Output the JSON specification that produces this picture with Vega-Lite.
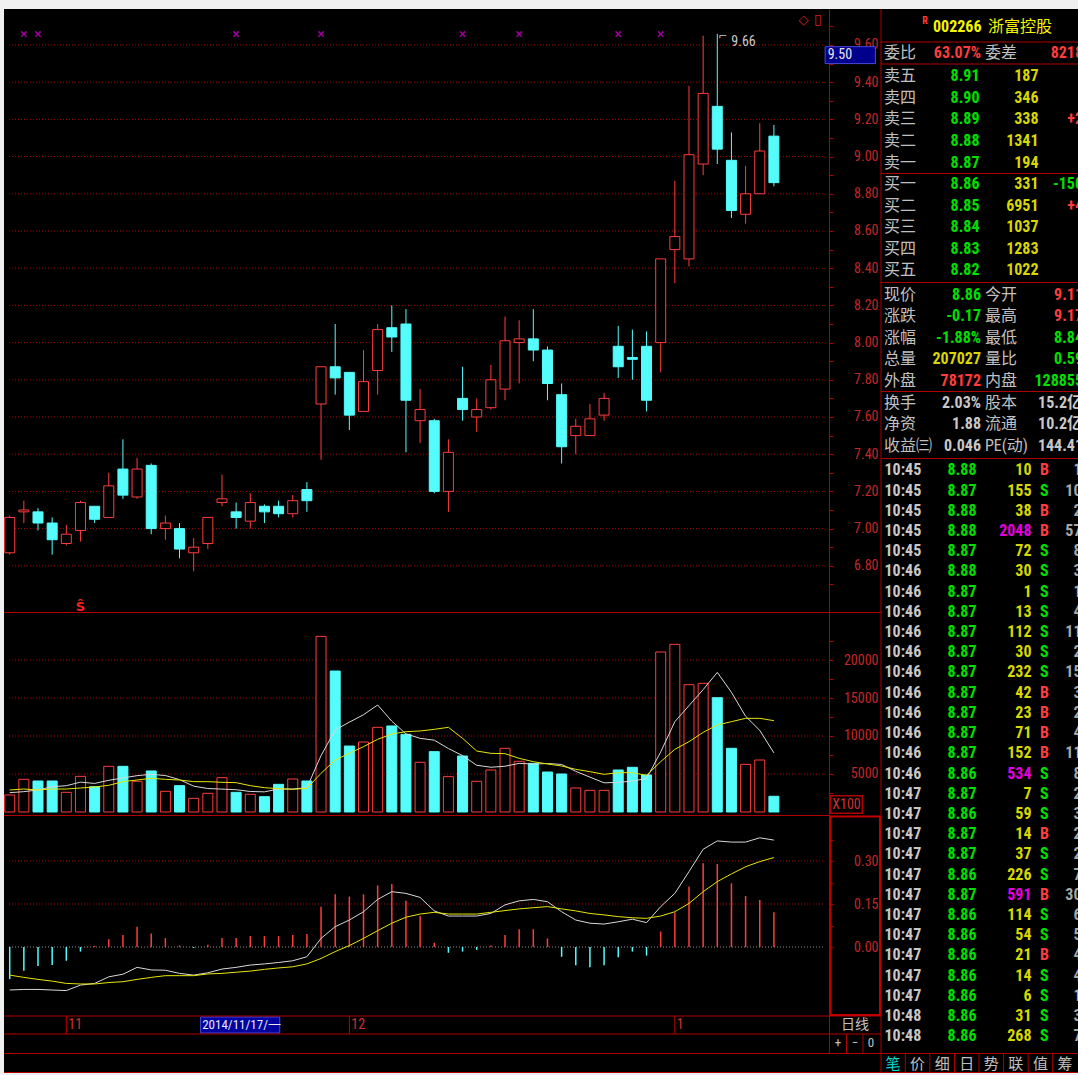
{
"$schema":"https://vega.github.io/schema/vega-lite/v6.json",
"autosize":"none",
"width":1074,"height":1063,
"padding":{"left":4,"top":9,"right":0,"bottom":3},
"background":"#f0f0f0",
"config":{
 "view":{"fill":"#000000","stroke":null},
 "text":{"baseline":"middle","font":"Roboto Condensed, DejaVu Sans Condensed, Liberation Sans Narrow, Liberation Sans, Noto Sans CJK SC, sans-serif"},
 "axis":{"labelFont":"Roboto Condensed, DejaVu Sans Condensed, Liberation Sans Narrow, Liberation Sans, sans-serif"}
},
"datasets":{
 "k":[
  {"i":0,"d":"2014/10/28","o":6.87,"h":7.07,"l":6.86,"c":7.06,"v":2240,"m5":2544,"m10":2895,"dif":-0.150,"dea":-0.098,"macd":-0.112},
  {"i":1,"d":"2014/10/29","o":7.09,"h":7.15,"l":7.03,"c":7.10,"v":4300,"m5":2675,"m10":3026,"dif":-0.148,"dea":-0.106,"macd":-0.083},
  {"i":2,"d":"2014/10/30","o":7.09,"h":7.11,"l":6.99,"c":7.03,"v":4080,"m5":2895,"m10":2895,"dif":-0.148,"dea":-0.113,"macd":-0.066},
  {"i":3,"d":"2014/10/31","o":7.03,"h":7.06,"l":6.86,"c":6.94,"v":4080,"m5":3333,"m10":3026,"dif":-0.150,"dea":-0.119,"macd":-0.063},
  {"i":4,"d":"2014/11/03","o":6.92,"h":7.02,"l":6.91,"c":6.97,"v":2590,"m5":3458,"m10":3026,"dif":-0.152,"dea":-0.127,"macd":-0.048},
  {"i":5,"d":"2014/11/04","o":6.99,"h":7.15,"l":6.93,"c":7.14,"v":4690,"m5":3930,"m10":3158,"dif":-0.133,"dea":-0.129,"macd":-0.016},
  {"i":6,"d":"2014/11/05","o":7.12,"h":7.12,"l":7.03,"c":7.05,"v":3330,"m5":3760,"m10":3289,"dif":-0.127,"dea":-0.129,"macd":0.004},
  {"i":7,"d":"2014/11/06","o":7.06,"h":7.30,"l":7.06,"c":7.23,"v":6010,"m5":4170,"m10":3509,"dif":-0.104,"dea":-0.124,"macd":0.027},
  {"i":8,"d":"2014/11/07","o":7.32,"h":7.48,"l":7.16,"c":7.18,"v":6010,"m5":4480,"m10":3991,"dif":-0.095,"dea":-0.121,"macd":0.042},
  {"i":9,"d":"2014/11/10","o":7.17,"h":7.38,"l":7.16,"c":7.32,"v":4040,"m5":4780,"m10":4211,"dif":-0.071,"dea":-0.113,"macd":0.071},
  {"i":10,"d":"2014/11/11","o":7.34,"h":7.35,"l":6.97,"c":7.00,"v":5400,"m5":4956,"m10":4430,"dif":-0.080,"dea":-0.106,"macd":0.047},
  {"i":11,"d":"2014/11/12","o":7.00,"h":7.07,"l":6.94,"c":7.03,"v":2720,"m5":4800,"m10":4300,"dif":-0.081,"dea":-0.100,"macd":0.031},
  {"i":12,"d":"2014/11/13","o":7.00,"h":7.03,"l":6.84,"c":6.89,"v":3470,"m5":4260,"m10":4211,"dif":-0.092,"dea":-0.100,"macd":0.005},
  {"i":13,"d":"2014/11/14","o":6.87,"h":6.95,"l":6.77,"c":6.90,"v":1800,"m5":3400,"m10":3991,"dif":-0.098,"dea":-0.100,"macd":-0.003},
  {"i":14,"d":"2014/11/17","o":6.92,"h":7.06,"l":6.89,"c":7.06,"v":2460,"m5":3090,"m10":3991,"dif":-0.090,"dea":-0.094,"macd":0.008},
  {"i":15,"d":"2014/11/18","o":7.14,"h":7.29,"l":7.12,"c":7.16,"v":4520,"m5":3010,"m10":3904,"dif":-0.077,"dea":-0.092,"macd":0.031},
  {"i":16,"d":"2014/11/19","o":7.09,"h":7.14,"l":7.00,"c":7.06,"v":2590,"m5":2930,"m10":3860,"dif":-0.071,"dea":-0.088,"macd":0.031},
  {"i":17,"d":"2014/11/20","o":7.04,"h":7.19,"l":7.00,"c":7.14,"v":2330,"m5":2700,"m10":3465,"dif":-0.063,"dea":-0.084,"macd":0.038},
  {"i":18,"d":"2014/11/21","o":7.12,"h":7.13,"l":7.03,"c":7.09,"v":2020,"m5":2650,"m10":3202,"dif":-0.059,"dea":-0.078,"macd":0.038},
  {"i":19,"d":"2014/11/24","o":7.12,"h":7.15,"l":7.06,"c":7.08,"v":3640,"m5":3026,"m10":3070,"dif":-0.054,"dea":-0.073,"macd":0.038},
  {"i":20,"d":"2014/11/25","o":7.08,"h":7.18,"l":7.06,"c":7.15,"v":4340,"m5":3026,"m10":2982,"dif":-0.048,"dea":-0.069,"macd":0.042},
  {"i":21,"d":"2014/11/26","o":7.21,"h":7.25,"l":7.09,"c":7.15,"v":4080,"m5":3200,"m10":3114,"dif":-0.034,"dea":-0.059,"macd":0.045},
  {"i":22,"d":"2014/11/27","o":7.67,"h":7.87,"l":7.37,"c":7.87,"v":23110,"m5":7420,"m10":5088,"dif":0.030,"dea":-0.040,"macd":0.140},
  {"i":23,"d":"2014/11/28","o":7.87,"h":8.10,"l":7.72,"c":7.81,"v":18550,"m5":10800,"m10":6842,"dif":0.071,"dea":-0.016,"macd":0.184},
  {"i":24,"d":"2014/12/01","o":7.84,"h":7.84,"l":7.53,"c":7.61,"v":8680,"m5":11820,"m10":7719,"dif":0.094,"dea":0.005,"macd":0.176},
  {"i":25,"d":"2014/12/02","o":7.63,"h":7.96,"l":7.63,"c":7.79,"v":9210,"m5":12800,"m10":8596,"dif":0.123,"dea":0.030,"macd":0.184},
  {"i":26,"d":"2014/12/03","o":7.85,"h":8.10,"l":7.72,"c":8.07,"v":11140,"m5":14080,"m10":9561,"dif":0.166,"dea":0.057,"macd":0.215},
  {"i":27,"d":"2014/12/04","o":8.08,"h":8.20,"l":7.95,"c":8.03,"v":11320,"m5":11950,"m10":10263,"dif":0.193,"dea":0.083,"macd":0.220},
  {"i":28,"d":"2014/12/05","o":8.10,"h":8.18,"l":7.41,"c":7.69,"v":10220,"m5":10280,"m10":10570,"dif":0.187,"dea":0.104,"macd":0.161},
  {"i":29,"d":"2014/12/08","o":7.58,"h":7.75,"l":7.46,"c":7.64,"v":6540,"m5":9690,"m10":10658,"dif":0.173,"dea":0.115,"macd":0.108},
  {"i":30,"d":"2014/12/09","o":7.58,"h":7.59,"l":7.19,"c":7.20,"v":7940,"m5":9450,"m10":10877,"dif":0.126,"dea":0.121,"macd":0.015},
  {"i":31,"d":"2014/12/10","o":7.20,"h":7.48,"l":7.09,"c":7.41,"v":4650,"m5":8350,"m10":11140,"dif":0.108,"dea":0.115,"macd":-0.020},
  {"i":32,"d":"2014/12/11","o":7.70,"h":7.87,"l":7.58,"c":7.64,"v":7370,"m5":7420,"m10":9693,"dif":0.108,"dea":0.115,"macd":-0.016},
  {"i":33,"d":"2014/12/12","o":7.60,"h":7.70,"l":7.52,"c":7.64,"v":4040,"m5":6150,"m10":8026,"dif":0.108,"dea":0.115,"macd":-0.010},
  {"i":34,"d":"2014/12/15","o":7.65,"h":7.88,"l":7.64,"c":7.80,"v":5530,"m5":5890,"m10":7719,"dif":0.117,"dea":0.121,"macd":0.005},
  {"i":35,"d":"2014/12/16","o":7.75,"h":8.14,"l":7.69,"c":8.01,"v":8380,"m5":6020,"m10":7675,"dif":0.147,"dea":0.127,"macd":0.042},
  {"i":36,"d":"2014/12/17","o":8.00,"h":8.12,"l":7.78,"c":8.02,"v":6670,"m5":6400,"m10":7061,"dif":0.161,"dea":0.133,"macd":0.062},
  {"i":37,"d":"2014/12/18","o":8.02,"h":8.18,"l":7.90,"c":7.96,"v":6400,"m5":6300,"m10":6623,"dif":0.166,"dea":0.137,"macd":0.062},
  {"i":38,"d":"2014/12/19","o":7.96,"h":7.98,"l":7.69,"c":7.78,"v":5260,"m5":6380,"m10":6316,"dif":0.158,"dea":0.141,"macd":0.030},
  {"i":39,"d":"2014/12/22","o":7.72,"h":7.78,"l":7.35,"c":7.44,"v":5000,"m5":6260,"m10":6053,"dif":0.123,"dea":0.133,"macd":-0.034},
  {"i":40,"d":"2014/12/23","o":7.50,"h":7.59,"l":7.40,"c":7.55,"v":3160,"m5":5350,"m10":5614,"dif":0.094,"dea":0.126,"macd":-0.064},
  {"i":41,"d":"2014/12/24","o":7.50,"h":7.67,"l":7.50,"c":7.59,"v":2850,"m5":4590,"m10":5307,"dif":0.083,"dea":0.117,"macd":-0.071},
  {"i":42,"d":"2014/12/25","o":7.61,"h":7.73,"l":7.58,"c":7.70,"v":2850,"m5":3840,"m10":4956,"dif":0.080,"dea":0.112,"macd":-0.064},
  {"i":43,"d":"2014/12/26","o":7.98,"h":8.09,"l":7.81,"c":7.87,"v":5530,"m5":3890,"m10":5175,"dif":0.088,"dea":0.106,"macd":-0.036},
  {"i":44,"d":"2014/12/29","o":7.92,"h":8.07,"l":7.80,"c":7.91,"v":5880,"m5":4070,"m10":5175,"dif":0.097,"dea":0.102,"macd":-0.016},
  {"i":45,"d":"2014/12/30","o":7.98,"h":8.06,"l":7.63,"c":7.69,"v":4870,"m5":4410,"m10":4825,"dif":0.085,"dea":0.100,"macd":-0.030},
  {"i":46,"d":"2014/12/31","o":8.00,"h":8.45,"l":7.84,"c":8.45,"v":21050,"m5":7900,"m10":6623,"dif":0.141,"dea":0.108,"macd":0.054},
  {"i":47,"d":"2015/01/05","o":8.50,"h":8.87,"l":8.32,"c":8.57,"v":22060,"m5":11880,"m10":8246,"dif":0.187,"dea":0.123,"macd":0.120},
  {"i":48,"d":"2015/01/06","o":8.45,"h":9.38,"l":8.41,"c":9.01,"v":16750,"m5":14000,"m10":9254,"dif":0.263,"dea":0.152,"macd":0.211},
  {"i":49,"d":"2015/01/07","o":8.96,"h":9.65,"l":8.90,"c":9.34,"v":16930,"m5":16100,"m10":10482,"dif":0.341,"dea":0.193,"macd":0.292},
  {"i":50,"d":"2015/01/08","o":9.27,"h":9.66,"l":8.96,"c":9.04,"v":15040,"m5":18370,"m10":11447,"dif":0.370,"dea":0.228,"macd":0.290},
  {"i":51,"d":"2015/01/09","o":8.98,"h":9.13,"l":8.67,"c":8.71,"v":8380,"m5":15750,"m10":11886,"dif":0.366,"dea":0.255,"macd":0.222},
  {"i":52,"d":"2015/01/12","o":8.69,"h":8.95,"l":8.64,"c":8.80,"v":6270,"m5":12600,"m10":12325,"dif":0.366,"dea":0.280,"macd":0.178},
  {"i":53,"d":"2015/01/13","o":8.80,"h":9.18,"l":8.80,"c":9.03,"v":6840,"m5":10740,"m10":12325,"dif":0.381,"dea":0.298,"macd":0.164},
  {"i":54,"d":"2015/01/14","o":9.11,"h":9.17,"l":8.84,"c":8.86,"v":2070,"m5":7780,"m10":12018,"dif":0.373,"dea":0.312,"macd":0.121}
 ],
 "sig":[{"i":1,"s":"x"},{"i":2,"s":"x"},{"i":16,"s":"x"},{"i":22,"s":"x"},{"i":32,"s":"x"},{"i":36,"s":"x"},{"i":43,"s":"x"},{"i":46,"s":"x"},{"i":5,"s":"S"}],
 "cursor":[{"i":14,"price":9.5,"d":"2014/11/17/一"}],
 "months":[{"i":4,"m":"11"},{"i":24,"m":"12"},{"i":47,"m":"1"}],
 "book":[
  {"n":"卖五","p":8.91,"v":187,"x":""},
  {"n":"卖四","p":8.90,"v":346,"x":""},
  {"n":"卖三","p":8.89,"v":338,"x":"+2"},
  {"n":"卖二","p":8.88,"v":1341,"x":""},
  {"n":"卖一","p":8.87,"v":194,"x":""},
  {"n":"买一","p":8.86,"v":331,"x":"-150"},
  {"n":"买二","p":8.85,"v":6951,"x":"+4"},
  {"n":"买三","p":8.84,"v":1037,"x":""},
  {"n":"买四","p":8.83,"v":1283,"x":""},
  {"n":"买五","p":8.82,"v":1022,"x":""}
 ],
 "stats":[
  {"n":"委比","v":"63.07%","t":"up","n2":"委差","v2":"8218","t2":"up"},
  {"n":"现价","v":"8.86","t":"dn","n2":"今开","v2":"9.11","t2":"up"},
  {"n":"涨跌","v":"-0.17","t":"dn","n2":"最高","v2":"9.17","t2":"up"},
  {"n":"涨幅","v":"-1.88%","t":"dn","n2":"最低","v2":"8.84","t2":"dn"},
  {"n":"总量","v":"207027","t":"vol","n2":"量比","v2":"0.59","t2":"dn"},
  {"n":"外盘","v":"78172","t":"up","n2":"内盘","v2":"128855","t2":"dn"},
  {"n":"换手","v":"2.03%","t":"info","n2":"股本","v2":"15.2亿","t2":"info"},
  {"n":"净资","v":"1.88","t":"info","n2":"流通","v2":"10.2亿","t2":"info"},
  {"n":"收益㈢","v":"0.046","t":"info","n2":"PE(动)","v2":"144.41","t2":"info"}
 ],
 "ticks":[
  {"n":1,"t":"10:45","p":8.88,"v":10,"bs":"B","k":1},
  {"n":2,"t":"10:45","p":8.87,"v":155,"bs":"S","k":10},
  {"n":3,"t":"10:45","p":8.88,"v":38,"bs":"B","k":2},
  {"n":4,"t":"10:45","p":8.88,"v":2048,"bs":"B","k":57},
  {"n":5,"t":"10:45","p":8.87,"v":72,"bs":"S","k":8},
  {"n":6,"t":"10:46","p":8.88,"v":30,"bs":"S","k":3},
  {"n":7,"t":"10:46","p":8.87,"v":1,"bs":"S","k":1},
  {"n":8,"t":"10:46","p":8.87,"v":13,"bs":"S","k":4},
  {"n":9,"t":"10:46","p":8.87,"v":112,"bs":"S","k":11},
  {"n":10,"t":"10:46","p":8.87,"v":30,"bs":"S","k":2},
  {"n":11,"t":"10:46","p":8.87,"v":232,"bs":"S","k":15},
  {"n":12,"t":"10:46","p":8.87,"v":42,"bs":"B","k":3},
  {"n":13,"t":"10:46","p":8.87,"v":23,"bs":"B","k":2},
  {"n":14,"t":"10:46","p":8.87,"v":71,"bs":"B","k":4},
  {"n":15,"t":"10:46","p":8.87,"v":152,"bs":"B","k":11},
  {"n":16,"t":"10:46","p":8.86,"v":534,"bs":"S","k":8},
  {"n":17,"t":"10:47","p":8.87,"v":7,"bs":"S","k":2},
  {"n":18,"t":"10:47","p":8.86,"v":59,"bs":"S","k":3},
  {"n":19,"t":"10:47","p":8.87,"v":14,"bs":"B","k":2},
  {"n":20,"t":"10:47","p":8.87,"v":37,"bs":"S","k":2},
  {"n":21,"t":"10:47","p":8.86,"v":226,"bs":"S","k":7},
  {"n":22,"t":"10:47","p":8.87,"v":591,"bs":"B","k":30},
  {"n":23,"t":"10:47","p":8.86,"v":114,"bs":"S","k":6},
  {"n":24,"t":"10:47","p":8.86,"v":54,"bs":"S","k":5},
  {"n":25,"t":"10:47","p":8.86,"v":21,"bs":"B","k":4},
  {"n":26,"t":"10:47","p":8.86,"v":14,"bs":"S","k":4},
  {"n":27,"t":"10:47","p":8.86,"v":6,"bs":"S","k":1},
  {"n":28,"t":"10:48","p":8.86,"v":31,"bs":"S","k":3},
  {"n":29,"t":"10:48","p":8.86,"v":268,"bs":"S","k":7}
 ]
},
"layer":[
 {
  "data":{"name":"k"},
  "resolve":{"scale":{"x":"shared","y":"independent"}},
  "layer":[
   {
    "resolve":{"axis":{"y":"independent"}},
    "layer":[
     {"data":{"values":[{"g":6.8},{"g":7.0},{"g":7.2},{"g":7.4},{"g":7.6},{"g":7.8},{"g":8.0},{"g":8.2},{"g":8.4},{"g":8.6},{"g":8.8},{"g":9.0},{"g":9.2},{"g":9.4},{"g":9.6}]},
      "mark":{"type":"rule","stroke":"#a80000","strokeDash":[1,2]},
      "encoding":{
       "x":{"datum":-0.05,"type":"quantitative","scale":{"domain":[-0.05,57.54],"range":[0,825],"nice":false,"zero":false},"axis":null},
       "x2":{"datum":57.54},
       "y":{"field":"g","type":"quantitative","scale":{"domain":[6.5516,9.7935],"range":[603,0],"nice":false,"zero":false},"axis":null}}},
     {"mark":{"type":"rule","clip":true},
      "encoding":{
       "x":{"field":"i","type":"quantitative","axis":null},
       "y":{"field":"l","type":"quantitative",
            "axis":{"orient":"right","offset":-249,"values":[6.8,7,7.2,7.4,7.6,7.8,8,8.2,8.4,8.6,8.8,9,9.2,9.4,9.6],"format":".2f","title":null,"labelAlign":"right","labelPadding":45,"tickSize":4,"tickColor":"#b00000","domainColor":"#b00000","labelColor":"#c02828","labelFontSize":14,"labelOverlap":false,"labelFlush":false,"grid":false}},
       "y2":{"field":"h"},
       "stroke":{"condition":{"test":"datum.c >= datum.o","value":"#ff3c3c"},"value":"#54fcfc"}}},
     {"mark":{"type":"bar","width":10,"strokeWidth":1,"clip":true},
      "encoding":{
       "x":{"field":"i","type":"quantitative","axis":null},
       "y":{"field":"o","type":"quantitative","axis":{"orient":"right","offset":-249,"values":[6.7,6.9,7.1,7.3,7.5,7.7,7.9,8.1,8.3,8.5,8.7,8.9,9.1,9.3,9.5,9.7],"labels":false,"domain":false,"grid":false,"tickSize":4,"tickColor":"#b00000","title":null}},
       "y2":{"field":"c"},
       "fill":{"condition":{"test":"datum.c >= datum.o","value":"#000000"},"value":"#54fcfc"},
       "stroke":{"condition":{"test":"datum.c >= datum.o","value":"#ff3c3c"},"value":"#54fcfc"}}},
     {"data":{"name":"sig"},"transform":[{"filter":"datum.s == 'x'"}],
      "mark":{"type":"point","shape":"M-1,-1L1,1M1,-1L-1,1","size":28,"filled":false,"stroke":"#e000e0","strokeWidth":1.5},
      "encoding":{"x":{"field":"i","type":"quantitative","axis":null},"y":{"datum":9.659,"type":"quantitative","axis":null}}},
     {"data":{"name":"sig"},"transform":[{"filter":"datum.s == 'S'"}],
      "mark":{"type":"text","text":"Ŝ","fontSize":13,"fontWeight":"bold","fill":"#ff2020","font":"DejaVu Sans"},
      "encoding":{"x":{"field":"i","type":"quantitative","axis":null},"y":{"datum":6.578,"type":"quantitative","axis":null}}},
     {"transform":[{"joinaggregate":[{"op":"max","field":"h","as":"hm"}]},{"filter":"datum.h == datum.hm"}],
      "mark":{"type":"text","align":"left","dx":14,"dy":8,"fontSize":14,"fill":"#c8c8c8"},
      "encoding":{"x":{"field":"i","type":"quantitative","axis":null},"y":{"field":"h","type":"quantitative","axis":null},"text":{"field":"h","type":"quantitative","format":".2f"}}},
     {"transform":[{"joinaggregate":[{"op":"max","field":"h","as":"hm"}]},{"filter":"datum.h == datum.hm"}],
      "mark":{"type":"text","text":"⌐","align":"left","dx":1,"dy":3,"fontSize":11,"fill":"#c8c8c8","font":"DejaVu Sans"},
      "encoding":{"x":{"field":"i","type":"quantitative","axis":null},"y":{"field":"h","type":"quantitative","axis":null}}},
     {"data":{"name":"cursor"},
      "mark":{"type":"rect","fill":"#00008c","stroke":"#4848d8","strokeWidth":1},
      "encoding":{"x":{"datum":57.62,"type":"quantitative","axis":null},"x2":{"datum":61.17},"y":{"field":"price","type":"quantitative","axis":null},"y2":{"datum":9.591}}},
     {"data":{"name":"cursor"},
      "mark":{"type":"text","align":"left","fontSize":14,"fill":"#e8e8e8"},
      "encoding":{"x":{"datum":57.8,"type":"quantitative","axis":null},"y":{"datum":9.546,"type":"quantitative","axis":null},"text":{"field":"price","type":"quantitative","format":".2f"}}},
     {"data":{"name":"cursor"},
      "mark":{"type":"text","text":"◇","fontSize":13,"fill":"#d02020","font":"DejaVu Sans"},
      "encoding":{"x":{"datum":56.1,"type":"quantitative","axis":null},"y":{"datum":9.734,"type":"quantitative","axis":null}}},
     {"data":{"name":"cursor"},
      "mark":{"type":"text","text":"▯","fontSize":14,"fill":"#d02020","font":"DejaVu Sans"},
      "encoding":{"x":{"datum":57.1,"type":"quantitative","axis":null},"y":{"datum":9.734,"type":"quantitative","axis":null}}}
    ]
   },
   {
    "resolve":{"axis":{"y":"independent"}},
    "layer":[
     {"data":{"values":[{"g":5000},{"g":10000},{"g":15000},{"g":20000}]},
      "mark":{"type":"rule","stroke":"#a80000","strokeDash":[1,2]},
      "encoding":{
       "x":{"datum":-0.05,"type":"quantitative","axis":null},
       "x2":{"datum":57.54},
       "y":{"field":"g","type":"quantitative","scale":{"domain":[-395,26316],"range":[806,603],"nice":false,"zero":false},"axis":null}}},
     {"mark":{"type":"bar","width":10,"strokeWidth":1,"clip":true},
      "encoding":{
       "x":{"field":"i","type":"quantitative","axis":null},
       "y":{"field":"v","type":"quantitative",
            "axis":{"orient":"right","offset":-249,"values":[5000,10000,15000,20000],"format":"d","title":null,"labelAlign":"right","labelPadding":45,"tickSize":4,"tickColor":"#b00000","domainColor":"#b00000","labelColor":"#c02828","labelFontSize":14,"labelOverlap":false,"labelFlush":false,"grid":false}},
       "y2":{"datum":0},
       "fill":{"condition":{"test":"datum.c >= datum.o","value":"#000000"},"value":"#54fcfc"},
       "stroke":{"condition":{"test":"datum.c >= datum.o","value":"#ff3c3c"},"value":"#54fcfc"}}},
     {"mark":{"type":"line","stroke":"#d8d8d8","strokeWidth":1,"clip":true},
      "encoding":{
       "x":{"field":"i","type":"quantitative","axis":null},
       "y":{"field":"m5","type":"quantitative","axis":{"orient":"right","offset":-249,"values":[2500,7500,12500,17500,22500],"labels":false,"domain":false,"grid":false,"tickSize":4,"tickColor":"#b00000","title":null}}}},
     {"mark":{"type":"line","stroke":"#e6e600","strokeWidth":1,"clip":true},
      "encoding":{"x":{"field":"i","type":"quantitative","axis":null},"y":{"field":"m10","type":"quantitative","axis":null}}}
    ]
   },
   {
    "resolve":{"axis":{"y":"independent"}},
    "layer":[
     {"data":{"values":[{"g":0.15,"z":"n"},{"g":0.3,"z":"n"},{"g":0,"z":"z"}]},
      "mark":{"type":"rule","strokeDash":[1,2]},
      "encoding":{
       "x":{"datum":-0.05,"type":"quantitative","axis":null},
       "x2":{"datum":57.54},
       "y":{"field":"g","type":"quantitative","scale":{"domain":[-0.2407,0.4605],"range":[1007,806],"nice":false,"zero":false},"axis":null},
       "stroke":{"condition":{"test":"datum.g == 0","value":"#909090"},"value":"#a80000"}}},
     {"mark":{"type":"rule","strokeWidth":1.5,"clip":true},
      "encoding":{
       "x":{"field":"i","type":"quantitative","axis":null},
       "y":{"field":"macd","type":"quantitative",
            "axis":{"orient":"right","offset":-249,"values":[0,0.15,0.3],"format":".2f","title":null,"labelAlign":"right","labelPadding":45,"tickSize":4,"tickColor":"#b00000","domainColor":"#b00000","labelColor":"#c02828","labelFontSize":14,"labelOverlap":false,"labelFlush":false,"grid":false}},
       "y2":{"datum":0},
       "stroke":{"condition":{"test":"datum.macd >= 0","value":"#ff3c3c"},"value":"#54fcfc"}}},
     {"mark":{"type":"line","stroke":"#d8d8d8","strokeWidth":1,"clip":true},
      "encoding":{
       "x":{"field":"i","type":"quantitative","axis":null},
       "y":{"field":"dif","type":"quantitative","axis":{"orient":"right","offset":-249,"values":[0.075,0.225,0.375],"labels":false,"domain":false,"grid":false,"tickSize":4,"tickColor":"#b00000","title":null}}}},
     {"mark":{"type":"line","stroke":"#e6e600","strokeWidth":1,"clip":true},
      "encoding":{"x":{"field":"i","type":"quantitative","axis":null},"y":{"field":"dea","type":"quantitative","axis":null}}},
     {"data":{"name":"months"},
      "mark":{"type":"rule","stroke":"#c00000"},
      "encoding":{"x":{"field":"i","type":"quantitative","axis":null},"y":{"datum":-0.2407,"type":"quantitative","axis":null},"y2":{"datum":-0.3035}}},
     {"data":{"name":"months"},
      "mark":{"type":"text","align":"left","dx":2,"fontSize":14,"fill":"#d03030"},
      "encoding":{"x":{"field":"i","type":"quantitative","axis":null},"y":{"datum":-0.272,"type":"quantitative","axis":null},"text":{"field":"m"}}},
     {"data":{"name":"cursor"},
      "mark":{"type":"rect","fill":"#0000a0","stroke":"#4848d8","strokeWidth":1},
      "encoding":{"x":{"datum":13.49,"type":"quantitative","axis":null},"x2":{"datum":19.08},"y":{"datum":-0.2442,"type":"quantitative","axis":null},"y2":{"datum":-0.300}}},
     {"data":{"name":"cursor"},
      "mark":{"type":"text","align":"left","fontSize":13,"fill":"#e8e8e8"},
      "encoding":{"x":{"datum":13.6,"type":"quantitative","axis":null},"y":{"datum":-0.272,"type":"quantitative","axis":null},"text":{"field":"d"}}}
    ]
   }
  ]
 },
 {
  "data":{"values":[{}]},
  "resolve":{"scale":{"x":"shared","y":"independent"}},
  "layer":[
   {
    "layer":[
     {"mark":{"type":"rule","stroke":"#b00000"},"encoding":{"x":{"datum":881,"type":"quantitative","scale":{"domain":[0,1078],"range":[-4,1074],"nice":false,"zero":false},"axis":null},"y":{"datum":9,"type":"quantitative","scale":{"domain":[0,1075],"range":[-9,1066],"nice":false,"zero":false},"axis":null},"y2":{"datum":1073}}},
     {"mark":{"type":"rule","stroke":"#b00000"},"encoding":{"x":{"datum":881,"type":"quantitative","axis":null},"x2":{"datum":1078},"y":{"datum":42,"type":"quantitative","axis":null}}},
     {"mark":{"type":"rule","stroke":"#b00000"},"encoding":{"x":{"datum":881,"type":"quantitative","axis":null},"x2":{"datum":1078},"y":{"datum":64,"type":"quantitative","axis":null}}},
     {"mark":{"type":"rule","stroke":"#b00000"},"encoding":{"x":{"datum":881,"type":"quantitative","axis":null},"x2":{"datum":1078},"y":{"datum":173.5,"type":"quantitative","axis":null}}},
     {"mark":{"type":"rule","stroke":"#b00000"},"encoding":{"x":{"datum":881,"type":"quantitative","axis":null},"x2":{"datum":1078},"y":{"datum":282.5,"type":"quantitative","axis":null}}},
     {"mark":{"type":"rule","stroke":"#b00000"},"encoding":{"x":{"datum":881,"type":"quantitative","axis":null},"x2":{"datum":1078},"y":{"datum":391.5,"type":"quantitative","axis":null}}},
     {"mark":{"type":"rule","stroke":"#b00000"},"encoding":{"x":{"datum":881,"type":"quantitative","axis":null},"x2":{"datum":1078},"y":{"datum":458.5,"type":"quantitative","axis":null}}},
     {"mark":{"type":"rule","stroke":"#b00000"},"encoding":{"x":{"datum":4,"type":"quantitative","axis":null},"x2":{"datum":1078},"y":{"datum":1053.5,"type":"quantitative","axis":null}}},
     {"mark":{"type":"rule","stroke":"#b00000"},"encoding":{"x":{"datum":4,"type":"quantitative","axis":null},"x2":{"datum":1078},"y":{"datum":1072.5,"type":"quantitative","axis":null}}},
     {"mark":{"type":"rule","stroke":"#b00000"},"encoding":{"x":{"datum":4,"type":"quantitative","axis":null},"x2":{"datum":881},"y":{"datum":612.5,"type":"quantitative","axis":null}}},
     {"mark":{"type":"rule","stroke":"#b00000"},"encoding":{"x":{"datum":4,"type":"quantitative","axis":null},"x2":{"datum":830},"y":{"datum":815.5,"type":"quantitative","axis":null}}},
     {"mark":{"type":"rule","stroke":"#b00000"},"encoding":{"x":{"datum":4,"type":"quantitative","axis":null},"x2":{"datum":881},"y":{"datum":1016,"type":"quantitative","axis":null}}},
     {"mark":{"type":"rule","stroke":"#b00000"},"encoding":{"x":{"datum":4,"type":"quantitative","axis":null},"x2":{"datum":881},"y":{"datum":1034,"type":"quantitative","axis":null}}},
     {"mark":{"type":"rule","stroke":"#b00000"},"encoding":{"x":{"datum":829.5,"type":"quantitative","axis":null},"y":{"datum":1016,"type":"quantitative","axis":null},"y2":{"datum":1053}}},
     {"mark":{"type":"rule","stroke":"#b00000"},"encoding":{"x":{"datum":846.5,"type":"quantitative","axis":null},"y":{"datum":1034,"type":"quantitative","axis":null},"y2":{"datum":1053}}},
     {"mark":{"type":"rule","stroke":"#b00000"},"encoding":{"x":{"datum":863,"type":"quantitative","axis":null},"y":{"datum":1034,"type":"quantitative","axis":null},"y2":{"datum":1053}}},
     {"mark":{"type":"rect","fill":null,"fillOpacity":0,"stroke":"#c00000","strokeWidth":2},"encoding":{"x":{"datum":830.5,"type":"quantitative","axis":null},"x2":{"datum":880},"y":{"datum":816.5,"type":"quantitative","axis":null},"y2":{"datum":1015}}},
     {"mark":{"type":"rect","fill":null,"fillOpacity":0,"stroke":"#b00000","strokeWidth":1.5},"encoding":{"x":{"datum":830.7,"type":"quantitative","axis":null},"x2":{"datum":862.3},"y":{"datum":795.7,"type":"quantitative","axis":null},"y2":{"datum":813.3}}},
     {"mark":{"type":"text","text":"X100","fontSize":14,"fill":"#d03030"},"encoding":{"x":{"datum":846.5,"type":"quantitative","axis":null},"y":{"datum":804.5,"type":"quantitative","axis":null}}},
     {"mark":{"type":"text","text":"日线","fontSize":14,"fill":"#c0c0c0"},"encoding":{"x":{"datum":855,"type":"quantitative","axis":null},"y":{"datum":1025,"type":"quantitative","axis":null}}},
     {"mark":{"type":"text","text":"+","fontSize":13,"fill":"#c0c0c0"},"encoding":{"x":{"datum":838,"type":"quantitative","axis":null},"y":{"datum":1043,"type":"quantitative","axis":null}}},
     {"mark":{"type":"text","text":"−","fontSize":13,"fill":"#c0c0c0"},"encoding":{"x":{"datum":855,"type":"quantitative","axis":null},"y":{"datum":1043,"type":"quantitative","axis":null}}},
     {"mark":{"type":"text","text":"0","fontSize":13,"fill":"#c0c0c0"},"encoding":{"x":{"datum":871,"type":"quantitative","axis":null},"y":{"datum":1043,"type":"quantitative","axis":null}}},
     {"mark":{"type":"text","text":"R","fontSize":10,"fontWeight":"bold","fill":"#ff3c3c"},"encoding":{"x":{"datum":925,"type":"quantitative","axis":null},"y":{"datum":21,"type":"quantitative","axis":null}}},
     {"mark":{"type":"text","text":"002266","align":"left","fontSize":16,"fontWeight":"bold","fill":"#f5f500"},"encoding":{"x":{"datum":933,"type":"quantitative","axis":null},"y":{"datum":27,"type":"quantitative","axis":null}}},
     {"mark":{"type":"text","text":"浙富控股","align":"left","fontSize":16,"fill":"#f5f500"},"encoding":{"x":{"datum":988,"type":"quantitative","axis":null},"y":{"datum":27,"type":"quantitative","axis":null}}},
     {"data":{"name":"stats"},"transform":[{"filter":"datum.n == '委比'"}],"mark":{"type":"text","align":"left","fontSize":16,"fill":"#c0c0c0"},
      "encoding":{"x":{"datum":884,"type":"quantitative","axis":null},"y":{"datum":53,"type":"quantitative","axis":null},"text":{"field":"n"}}},
     {"data":{"name":"stats"},"transform":[{"filter":"datum.n == '委比'"}],"mark":{"type":"text","align":"right","fontSize":16,"fontWeight":"bold"},
      "encoding":{"x":{"datum":981,"type":"quantitative","axis":null},"y":{"datum":53,"type":"quantitative","axis":null},"text":{"field":"v"},
       "color":{"field":"t","type":"nominal","scale":{"domain":["up","dn","vol","info"],"range":["#ff3c3c","#00e000","#d8d800","#c8c8c8"]},"legend":null}}},
     {"data":{"name":"stats"},"transform":[{"filter":"datum.n == '委比'"}],"mark":{"type":"text","align":"left","fontSize":16,"fill":"#c0c0c0"},
      "encoding":{"x":{"datum":985,"type":"quantitative","axis":null},"y":{"datum":53,"type":"quantitative","axis":null},"text":{"field":"n2"}}},
     {"data":{"name":"stats"},"transform":[{"filter":"datum.n == '委比'"}],"mark":{"type":"text","align":"right","fontSize":16,"fontWeight":"bold","clip":true},
      "encoding":{"x":{"datum":1083,"type":"quantitative","axis":null},"y":{"datum":53,"type":"quantitative","axis":null},"text":{"field":"v2"},
       "color":{"field":"t2","type":"nominal","legend":null}}}
    ]
   },
   {
    "data":{"name":"book"},
    "layer":[
     {"mark":{"type":"text","align":"left","fontSize":16,"fill":"#c0c0c0"},
      "encoding":{"x":{"datum":884,"type":"quantitative","axis":null},
       "y":{"field":"n","type":"nominal","scale":{"type":"point","domain":["卖五","卖四","卖三","卖二","卖一","买一","买二","买三","买四","买五"],"range":[67.3,261.3],"padding":0},"axis":null},
       "text":{"field":"n"}}},
     {"mark":{"type":"text","align":"right","fontSize":16,"fontWeight":"bold"},
      "encoding":{"x":{"datum":979.5,"type":"quantitative","axis":null},"y":{"field":"n","type":"nominal","axis":null},
       "text":{"field":"p","type":"quantitative","format":".2f"},
       "color":{"condition":{"test":"datum.p < 9.03","value":"#00e000"},"value":"#ff3c3c"}}},
     {"mark":{"type":"text","align":"right","fontSize":16,"fontWeight":"bold","fill":"#d8d800"},
      "encoding":{"x":{"datum":1038.5,"type":"quantitative","axis":null},"y":{"field":"n","type":"nominal","axis":null},
       "text":{"field":"v","type":"quantitative","format":"d"}}},
     {"transform":[{"filter":"datum.x != ''"}],
      "mark":{"type":"text","align":"right","fontSize":16,"fontWeight":"bold","clip":true},
      "encoding":{"x":{"datum":1083,"type":"quantitative","axis":null},"y":{"field":"n","type":"nominal","axis":null},
       "text":{"field":"x"},
       "color":{"condition":{"test":"indexof(datum.x, '+') == 0","value":"#ff3c3c"},"value":"#00e000"}}}
    ]
   },
   {
    "data":{"name":"stats"},
    "transform":[{"filter":"datum.n != '委比'"}],
    "layer":[
     {"mark":{"type":"text","align":"left","fontSize":16,"fill":"#c0c0c0"},
      "encoding":{"x":{"datum":884,"type":"quantitative","axis":null},
       "y":{"field":"n","type":"nominal","scale":{"type":"point","domain":["现价","涨跌","涨幅","总量","外盘","换手","净资","收益㈢"],"range":[285.5,437],"padding":0},"axis":null},
       "text":{"field":"n"}}},
     {"mark":{"type":"text","align":"right","fontSize":16,"fontWeight":"bold"},
      "encoding":{"x":{"datum":981,"type":"quantitative","axis":null},"y":{"field":"n","type":"nominal","axis":null},
       "text":{"field":"v"},"color":{"field":"t","type":"nominal","legend":null}}},
     {"mark":{"type":"text","align":"left","fontSize":16,"fill":"#c0c0c0"},
      "encoding":{"x":{"datum":985,"type":"quantitative","axis":null},"y":{"field":"n","type":"nominal","axis":null},"text":{"field":"n2"}}},
     {"mark":{"type":"text","align":"right","fontSize":16,"fontWeight":"bold","clip":true},
      "encoding":{"x":{"datum":1083,"type":"quantitative","axis":null},"y":{"field":"n","type":"nominal","axis":null},
       "text":{"field":"v2"},"color":{"field":"t2","type":"nominal","legend":null}}}
    ]
   },
   {
    "data":{"name":"ticks"},
    "layer":[
     {"mark":{"type":"text","align":"left","fontSize":16,"fontWeight":"bold","fill":"#c8c8c8"},
      "encoding":{"x":{"datum":884.5,"type":"quantitative","axis":null},
       "y":{"field":"n","type":"ordinal","scale":{"type":"point","range":[461.3,1027.3],"padding":0},"axis":null},
       "text":{"field":"t"}}},
     {"mark":{"type":"text","align":"right","fontSize":16,"fontWeight":"bold"},
      "encoding":{"x":{"datum":976.5,"type":"quantitative","axis":null},"y":{"field":"n","type":"ordinal","axis":null},
       "text":{"field":"p","type":"quantitative","format":".2f"},
       "color":{"condition":{"test":"datum.p < 9.03","value":"#00e000"},"value":"#ff3c3c"}}},
     {"mark":{"type":"text","align":"right","fontSize":16,"fontWeight":"bold"},
      "encoding":{"x":{"datum":1031.5,"type":"quantitative","axis":null},"y":{"field":"n","type":"ordinal","axis":null},
       "text":{"field":"v","type":"quantitative","format":"d"},
       "color":{"condition":{"test":"datum.v >= 500","value":"#e000e0"},"value":"#d8d800"}}},
     {"mark":{"type":"text","align":"left","fontSize":16,"fontWeight":"bold"},
      "encoding":{"x":{"datum":1040,"type":"quantitative","axis":null},"y":{"field":"n","type":"ordinal","axis":null},
       "text":{"field":"bs"},
       "color":{"condition":{"test":"datum.bs == 'B'","value":"#ff3c3c"},"value":"#00e000"}}},
     {"mark":{"type":"text","align":"right","fontSize":16,"fontWeight":"bold","fill":"#a8a8a8","clip":true},
      "encoding":{"x":{"datum":1081.5,"type":"quantitative","axis":null},"y":{"field":"n","type":"ordinal","axis":null},
       "text":{"field":"k","type":"quantitative","format":"d"}}}
    ]
   }
  ]
 },
 {
  "data":{"values":[{"tab":"笔"},{"tab":"价"},{"tab":"细"},{"tab":"日"},{"tab":"势"},{"tab":"联"},{"tab":"值"},{"tab":"筹"}]},
  "layer":[
   {"mark":{"type":"text","fontSize":15},
    "encoding":{
     "x":{"field":"tab","type":"nominal","sort":null,"scale":{"type":"point","domain":["笔","价","细","日","势","联","值","筹"],"range":[889,1061],"padding":0},"axis":null},
     "y":{"datum":1064,"type":"quantitative","scale":{"domain":[0,1075],"range":[-9,1066],"nice":false,"zero":false},"axis":null},
     "text":{"field":"tab"},
     "color":{"condition":{"test":"datum.tab == '笔'","value":"#00d8d8"},"value":"#c0c0c0"}}},
   {"transform":[{"filter":"datum.tab != '筹'"}],
    "mark":{"type":"rule","stroke":"#b00000","xOffset":12.3},
    "encoding":{
     "x":{"field":"tab","type":"nominal","sort":null,"axis":null},
     "y":{"datum":1053.5,"type":"quantitative","axis":null},
     "y2":{"datum":1072.5}}}
  ]
 }
],
"resolve":{"scale":{"x":"independent","y":"independent"}}
}
